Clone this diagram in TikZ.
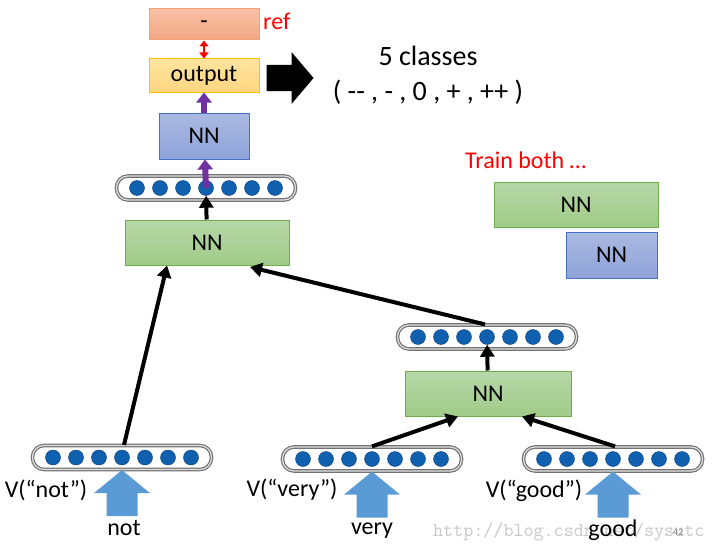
\documentclass[tikz,border=0pt]{standalone}
\usepackage{fontspec}
\setmainfont{Carlito}
\usetikzlibrary{arrows.meta,calc}
\definecolor{gtop}{RGB}{183,215,168}
\definecolor{gbot}{RGB}{160,203,136}
\definecolor{gbrd}{RGB}{112,173,71}
\definecolor{btop}{RGB}{171,185,225}
\definecolor{bbot}{RGB}{142,163,216}
\definecolor{bbrd}{RGB}{68,114,196}
\definecolor{otop}{RGB}{255,228,160}
\definecolor{obot}{RGB}{255,214,128}
\definecolor{obrd}{RGB}{255,192,0}
\definecolor{rtop}{RGB}{248,192,166}
\definecolor{rbot}{RGB}{243,165,131}
\definecolor{rbrd}{RGB}{241,160,120}
\definecolor{dotblue}{RGB}{16,96,176}
\definecolor{dotbrd}{RGB}{10,60,120}
\definecolor{purp}{RGB}{112,48,160}
\definecolor{lblue}{RGB}{91,155,213}
\definecolor{wmgray}{RGB}{200,200,200}
\newcommand\myfs[1]{\fontsize{#1}{#1}\selectfont}
\tikzset{
  x=1pt, y=-1pt,
  nnbox/.style={rectangle, line width=1pt, inner sep=0pt, font=\myfs{24}},
  greenbox/.style={nnbox, draw=gbrd, top color=gtop, bottom color=gbot},
  bluebox/.style={nnbox, draw=bbrd, top color=btop, bottom color=bbot},
  outbox/.style={nnbox, draw=obrd, top color=otop, bottom color=obot},
  refbox/.style={nnbox, draw=rbrd, top color=rtop, bottom color=rbot},
  vecbox/.style={rectangle, rounded corners=11.5pt, minimum width=179pt, minimum height=24pt,
     inner sep=0pt, draw=black!55, line width=1.2pt, double=black!12, double distance=1.2pt, fill=white},
  dot/.style={circle, minimum size=15pt, inner sep=0pt, fill=dotblue, draw=dotbrd, line width=0.4pt},
  blk/.style={line width=4pt, -{Triangle[length=12pt,width=14pt]}},
  purarr/.style={purp, line width=6pt, -{Triangle[length=10pt,width=15pt]}},
  redarr/.style={red, line width=2pt, {Triangle[length=6pt,width=9pt]}-{Triangle[length=6pt,width=9pt]}},
  barrow/.style={fill=lblue},
  lbl/.style={font=\myfs{24}, inner sep=0pt},
}
\newcommand\vecrow[3]{%
  \node[vecbox] (#1) at (#2,#3) {};
  \foreach \k in {1,...,7} {\node[dot] (#1-\k) at ($(#1.center)+({(\k-4)*23},0)$) {};}
}
\newcommand\uparr[1]{%
  \fill[barrow] (#1.south) -- ++(28,23) -- ++(-12.5,0) -- ++(0,23) -- ++(-31,0) -- ++(0,-23) -- ++(-12.5,0) -- cycle;
}
\begin{document}
\begin{tikzpicture}
\useasboundingbox (0,0) rectangle (715,551);
\fill[white] (0,0) rectangle (715,551);

% top stack
\node[refbox, minimum width=110pt, minimum height=31pt] (ref) at (204,24.5) {-};
\node[lbl, text=red, anchor=west] (reflbl) at (263,21) {ref};
\node[outbox, minimum width=110pt, minimum height=33pt] (out) at (204,75.5) {output};
\node[bluebox, minimum width=90pt, minimum height=46pt] (nn1) at (204,136) {NN};
\vecrow{vtop}{206}{188}
\node[greenbox, minimum width=164pt, minimum height=45pt] (nn2) at (207,242.5) {NN};

% big arrow and classes
\fill ($(out.east)+(7,-10.5)$) -- ++(25,0) -- ++(0,-13) -- ++(22,26) -- ++(-22,26) -- ++(0,-13) -- ++(-25,0) -- cycle;
\node[lbl, font=\myfs{28}] (cls) at (428,56) {5 classes};
\node[lbl, font=\myfs{28}] (clslist) at (428,92) {( -{}- , - , 0 , + , ++ )};

% train both
\node[lbl, text=red, anchor=west] (train) at (465,160) {Train both …};
\node[greenbox, minimum width=164pt, minimum height=45pt] (tg) at (576,204.5) {NN};
\node[bluebox, minimum width=91pt, minimum height=46pt] (tb) at (611.5,255) {NN};

% right subtree
\vecrow{vmid}{487}{337}
\node[greenbox, minimum width=166pt, minimum height=45pt] (nn3) at (488,393.5) {NN};

% leaves
\vecrow{vnot}{122}{457.5}
\vecrow{vvery}{372}{459}
\vecrow{vgood}{613}{459}

% arrows
\draw[redarr] (ref) -- (out);
\draw[purarr] (nn1) -- (out);
\draw[purarr] (vtop-4.center) -- (nn1);
\draw[blk] (nn2) -- (vtop-4);
\draw[blk] ($(vnot.north)+(2,0)$) -- ($(nn2.south)+(-40,0)$);
\draw[blk] ($(vmid.north)+(-2,0)$) -- ($(nn2.south)+(43,1.5)$);
\draw[blk] (nn3) -- (vmid-4);
\draw[blk] (vvery.north) -- ($(nn3.south)+(-30,0)$);
\draw[blk] ($(vgood.north)+(2,0)$) -- ($(nn3.south)+(34,0)$);

% input block arrows
\uparr{vnot}
\uparr{vvery}
\uparr{vgood}

% watermark
\node[anchor=west, inner sep=0pt, text=wmgray, font=\ttfamily\myfs{19.5}] (wm) at (433,532) {http://blog.csdn.net/sysutc};
\node[inner sep=0pt, text=black!50, font=\myfs{10}] (pg) at (678,532) {42};

% labels
\node[lbl] (lnot) at (46,490) {V(“not”)};
\node[lbl] (wnot) at (124,528) {not};
\node[lbl] (lvery) at (292,490) {V(“very”)};
\node[lbl] (wvery) at (372,531) {very};
\node[lbl] (lgood) at (534,491) {V(“good”)};
\node[lbl] (wgood) at (613,530) {good};
\end{tikzpicture}
\end{document}
